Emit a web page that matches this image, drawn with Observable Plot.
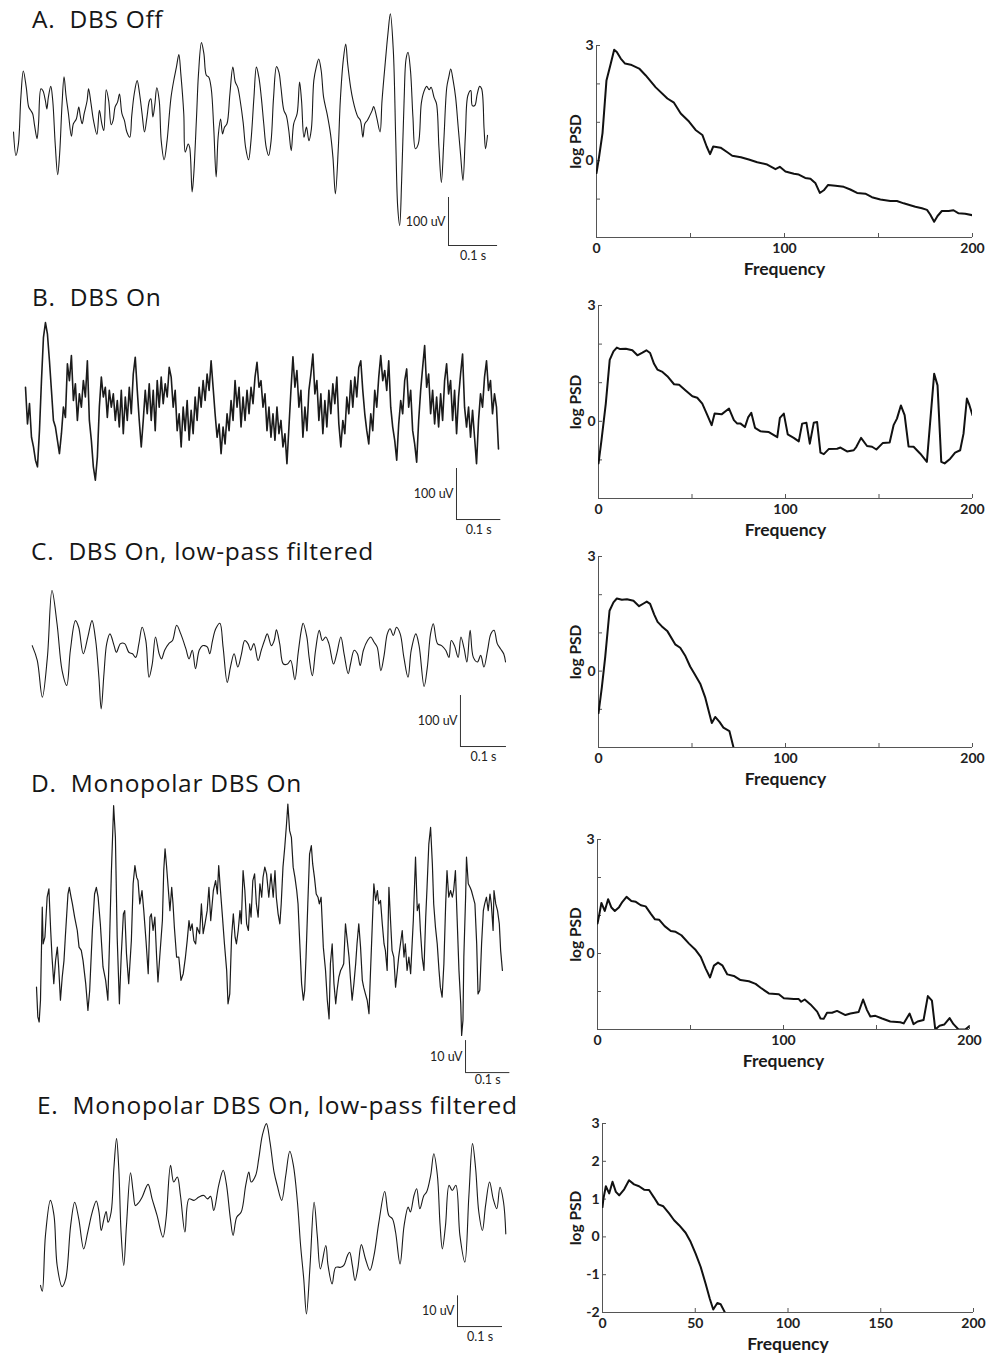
<!DOCTYPE html>
<html><head><meta charset="utf-8">
<script src="https://cdn.jsdelivr.net/npm/d3@7"></script>
<script src="https://cdn.jsdelivr.net/npm/@observablehq/plot@0.6"></script>
<style>
body{margin:0;background:#fff;}
#page{position:relative;width:990px;height:1355px;overflow:hidden;background:#fff;font-family:Lato,"Open Sans",sans-serif;}
.title{position:absolute;font-family:"Open Sans",Lato,sans-serif;font-size:24.5px;letter-spacing:0.7px;line-height:24px;color:#161616;white-space:pre;}
.panel{position:absolute;}
</style></head><body><div id="page"></div>
<script>
// ---------------- DATA ----------------
const titles = ["A.  DBS Off","B.  DBS On","C.  DBS On, low-pass filtered","D.  Monopolar DBS On","E.  Monopolar DBS On, low-pass filtered"];

// traces: [time ms, amplitude uV]
const traceA = [[0,-3],[5,-52],[10,-28],[15,69],[20,124],[26,90],[31,49],[35,42],[39,35],[43,10],[48,-17],[51,14],[56,87],[60,83],[65,62],[68,45],[71,69],[76,92],[80,62],[85,-28],[90,-92],[94,-49],[99,56],[103,112],[107,73],[112,35],[118,-12],[122,14],[128,24],[133,49],[136,31],[140,14],[144,35],[150,62],[153,87],[158,56],[163,21],[170,-8],[175,42],[180,14],[184,0],[189,85],[194,62],[199,12],[203,21],[207,49],[212,59],[216,76],[221,35],[226,21],[231,-3],[237,-14],[241,31],[246,76],[252,104],[257,76],[262,35],[267,-3],[272,28],[277,62],[280,66],[284,28],[288,54],[292,89],[297,62],[301,-21],[307,-61],[313,-21],[318,38],[321,69],[326,101],[332,132],[337,158],[341,118],[347,35],[350,-45],[356,-28],[359,-35],[364,-128],[367,-97],[373,28],[377,118],[383,183],[388,160],[393,115],[398,111],[403,87],[408,7],[413,-97],[417,-14],[422,24],[426,-7],[430,7],[435,14],[441,76],[447,132],[452,101],[457,90],[462,62],[468,17],[473,-35],[479,-61],[484,-21],[490,69],[495,132],[500,111],[505,69],[510,14],[515,-35],[520,-52],[525,-21],[530,69],[536,133],[541,121],[545,90],[551,42],[556,31],[561,0],[566,-42],[571,14],[578,35],[583,101],[587,62],[592,-14],[597,7],[602,-21],[607,3],[612,104],[617,132],[622,149],[627,125],[632,69],[639,35],[646,-7],[651,-56],[656,-132],[662,-35],[666,62],[672,146],[677,180],[681,139],[687,90],[692,62],[697,42],[702,28],[707,21],[712,-14],[716,14],[721,21],[726,31],[731,42],[734,50],[740,28],[747,-3],[751,62],[758,146],[763,201],[768,243],[774,167],[779,-21],[783,-160],[787,-198],[791,-104],[796,62],[800,149],[804,163],[809,125],[814,28],[819,-38],[825,-28],[831,56],[836,80],[842,92],[847,85],[851,90],[857,69],[862,56],[867,-35],[872,-108],[877,-21],[883,90],[887,111],[891,128],[896,104],[901,69],[906,10],[911,-49],[916,-104],[921,-7],[926,73],[932,83],[935,52],[940,52],[945,76],[950,92],[954,87],[959,3],[962,-38],[966,-10]];

// trace B: uniformly sampled, uV
const traceB_dt = 4.5; // ms between samples
const traceB = [52,-20,20,-46,-65,-91,-104,-33,65,150,179,156,104,46,-13,-26,-52,-78,-39,13,-7,98,65,114,26,59,-13,39,13,65,33,104,-13,-52,-104,-130,-85,13,72,33,52,-7,46,13,39,-13,26,-26,46,-39,33,-13,52,0,78,111,46,-13,-65,-13,46,0,59,-13,46,-33,65,13,72,20,59,33,91,72,13,46,-33,0,-65,13,-33,26,-52,7,-39,33,-13,52,13,65,26,78,46,104,52,0,-46,-20,-78,-26,-59,0,-33,26,-13,65,13,52,-26,33,-13,46,0,52,20,72,101,52,65,13,39,-33,13,-46,0,-52,13,-39,-13,-65,-39,-98,-26,46,112,52,85,13,46,-46,13,-33,46,78,117,39,65,-13,39,-39,26,-26,46,0,59,20,72,-20,-65,-13,-39,33,0,65,13,72,33,91,104,46,0,-33,-59,0,-33,46,13,72,114,65,85,46,104,13,-26,-52,-91,-20,26,0,65,88,13,46,-33,-59,-95,-13,46,91,134,52,78,0,46,-20,33,-26,39,-13,65,98,39,65,-13,46,-39,33,78,117,13,-26,13,-46,7,-46,-98,-13,39,13,72,104,46,65,0,39,13,-69];

const traceC = [[0,16],[11,-13],[22,-85],[33,-7],[43,124],[54,59],[65,-33],[75,-62],[83,7],[94,65],[101,52],[111,0],[121,33],[130,65],[138,26],[145,-46],[150,-108],[156,-39],[162,20],[169,39],[178,16],[183,3],[192,20],[201,20],[210,3],[218,0],[225,-7],[232,20],[239,52],[247,26],[254,-46],[261,-20],[268,33],[276,0],[281,-10],[288,7],[297,20],[305,26],[314,56],[323,39],[334,10],[341,-10],[348,7],[355,-29],[363,7],[370,16],[375,16],[381,13],[386,0],[392,26],[399,49],[408,60],[415,13],[424,-56],[431,-26],[439,0],[447,-26],[455,0],[462,26],[469,20],[475,7],[482,20],[491,-13],[498,7],[505,26],[511,39],[520,16],[526,26],[531,47],[538,20],[546,-20],[555,-20],[562,-13],[571,-51],[578,0],[585,46],[589,60],[597,33],[602,-7],[609,-43],[616,7],[624,46],[631,26],[638,33],[645,20],[655,-20],[662,0],[671,33],[678,0],[687,-39],[692,-20],[700,7],[707,0],[713,-23],[720,7],[729,26],[736,33],[743,23],[750,13],[758,-33],[765,-3],[772,39],[778,49],[785,36],[792,52],[800,39],[808,-7],[817,-46],[824,7],[834,39],[841,16],[852,-64],[859,-26],[866,39],[872,59],[881,20],[890,16],[899,7],[906,-7],[911,26],[918,16],[926,-7],[932,33],[939,10],[945,-16],[952,46],[959,-7],[968,-16],[975,-3],[982,-26],[990,7],[997,39],[1004,46],[1011,20],[1018,10],[1025,0],[1029,-16]];

const traceD = [[0,-17.7],[3,-27],[6,-28.6],[9,-21.8],[13,7.3],[15,-4.2],[19,-2.1],[24,10.4],[28,13],[32,0],[35,-8.3],[39,-16.6],[43,-9.4],[47,-5.2],[50,-11.4],[54,-21.8],[58,-14.6],[62,-9.4],[65,-2.1],[71,11.4],[74,13.5],[78,10.4],[81,8.3],[86,4.2],[92,0],[96,-5.2],[101,-6.2],[105,-9.4],[111,-16.6],[116,-25],[120,-18.7],[126,0],[131,11.4],[135,13.5],[139,10.4],[144,2.1],[150,-11.4],[156,-15.6],[161,-21.8],[165,-2.1],[169,18.7],[174,39],[178,29.1],[182,-2.1],[187,-22.9],[191,-8.3],[196,5.2],[199,6.2],[203,-7.3],[208,-16.6],[214,-3.1],[218,14.6],[222,20.3],[226,16.6],[229,15.6],[233,8.3],[238,12.5],[242,6.2],[247,-3.1],[252,-13.5],[256,4.2],[259,5.2],[263,0],[267,4.2],[271,-8.3],[274,-16.1],[278,-8.3],[284,3.1],[287,18.7],[290,25.5],[293,20.8],[297,13.5],[301,6.2],[305,13.5],[308,8.3],[311,1],[316,-8.3],[321,-8.3],[326,-15.6],[331,-13.5],[336,-8.3],[340,-3.1],[344,3.1],[347,0],[351,2.1],[355,-3.1],[359,-4.2],[362,1],[368,-1],[372,8.3],[376,-1],[380,2.1],[385,6.2],[389,13.5],[393,3.1],[399,12.5],[404,15.6],[408,11.4],[411,20.3],[415,12.5],[419,5.2],[424,-4.2],[429,-12.5],[432,-22.9],[436,-19.8],[440,-2.1],[444,5.2],[448,-2.1],[451,-4.2],[455,0],[459,6.2],[462,2.1],[466,18.7],[470,12.5],[474,2.1],[478,0],[481,8.3],[484,4.2],[488,15.6],[492,17.7],[496,8.3],[500,4.2],[504,14.6],[508,10.4],[511,16.6],[515,19.8],[519,17.7],[524,10.4],[529,17.7],[534,10.4],[538,18.7],[541,10.4],[545,5.2],[549,2.1],[552,8.3],[556,19.8],[560,26],[564,33.3],[567,39.5],[571,31.2],[575,29.1],[579,19.8],[583,16.6],[587,12.5],[590,8.3],[594,-4.2],[598,-16.6],[602,-21.8],[605,-18.7],[608,-8.3],[612,8.3],[616,23.9],[620,26.5],[623,20.8],[627,16.6],[631,11.4],[635,10.4],[638,8.3],[642,10.4],[647,-5.2],[652,-12.5],[656,-21.8],[660,-27.6],[663,-10.4],[667,-4.2],[671,-16.6],[675,-22.9],[678,-18.7],[682,-14.6],[686,-12.5],[690,-11.4],[693,-10.4],[697,2.1],[701,-3.1],[705,-8.3],[708,-14.6],[712,-21.8],[716,-16.6],[720,-10.4],[723,-4.2],[727,2.1],[731,-5.2],[735,-15.6],[738,-17.7],[742,-19.8],[746,-21.8],[750,-26],[753,-14.6],[757,0],[761,14.6],[765,9.4],[769,12.5],[772,8.3],[776,9.4],[780,2.1],[784,-4.2],[787,-6.2],[791,-12.5],[795,13.5],[799,2.1],[802,-6.2],[806,-8.3],[810,-17.7],[814,-12.5],[817,-8.3],[821,-4.2],[825,0],[829,-8.3],[832,-4.2],[836,-12.5],[840,-8.3],[844,-13.5],[850,3.1],[855,22.9],[859,6.2],[863,8.3],[866,0],[870,-8.3],[874,-12.5],[878,4.2],[881,13.5],[885,27],[889,32.2],[893,20.8],[896,8.3],[900,1],[904,-4.2],[908,-12.5],[911,-17.7],[915,-20.8],[919,-10.4],[923,8.3],[926,18.7],[930,10.4],[934,12.5],[938,10.4],[941,12.5],[945,18.7],[949,3.1],[953,-12.5],[957,-22.9],[959,-32.8],[962,-28.1],[964,-8.3],[968,10.4],[970,22.9],[974,14.6],[978,13.5],[981,12.5],[985,10.4],[989,8.3],[993,-4.2],[996,-19.8],[1000,-18.7],[1004,-4.2],[1008,6.2],[1011,8.3],[1015,10.4],[1019,6.2],[1023,11.4],[1026,8.3],[1030,0],[1032,12.5],[1036,8.3],[1040,6.2],[1044,2.1],[1047,-6.2],[1051,-12.5]];

const traceE = [[0,-21.7],[4,-23.6],[11,-5.4],[22,6],[30,1.1],[37,-15.2],[48,-22.1],[56,-19.6],[67,-2.2],[76,5.4],[85,0],[96,-9.8],[105,-4.3],[115,2.2],[124,5.8],[130,2.2],[135,-3.8],[141,0],[146,2.4],[150,-1.1],[157,2.2],[163,16.3],[169,26.1],[174,16.3],[179,-4.3],[185,-15.2],[191,-2.2],[200,15],[206,8.7],[211,4.3],[219,5.4],[226,7.1],[239,11.2],[248,6.5],[259,1.1],[272,-6],[279,0],[289,17.4],[296,12],[304,13.6],[311,7.6],[321,-4.3],[330,6.5],[341,6],[352,7.1],[363,7.6],[371,6.5],[378,7.3],[385,2.7],[396,10.9],[406,15.8],[413,11.4],[422,0],[428,-5.4],[436,0.5],[446,2.2],[456,10.9],[463,15.2],[468,12],[478,14.1],[485,19.6],[493,27.2],[502,31],[510,25],[519,15.2],[526,10.9],[536,6],[545,14.1],[554,22],[562,17.4],[571,5.4],[578,-8.7],[585,-19.6],[591,-31],[599,-15.2],[608,5.4],[615,-5.4],[622,-16.3],[634,-8.7],[639,-15.2],[648,-21.2],[656,-15.8],[667,-15.8],[674,-15.2],[682,-12],[687,-10.9],[693,-15.2],[699,-20.1],[705,-16.3],[713,-8.4],[722,-13],[732,-16.8],[741,-12],[752,-1.1],[765,8.9],[774,1.1],[782,0],[789,-4.3],[799,-14.7],[808,-2.2],[817,3.8],[822,2.2],[830,7.6],[836,9.8],[843,3.3],[852,7.6],[858,8.7],[867,14.1],[874,21.2],[882,14.1],[888,-2.2],[893,-9.8],[900,-2.2],[908,10.9],[915,9.2],[923,10.9],[932,-5.4],[943,-14.1],[952,7.6],[960,24.5],[967,16.3],[974,2.2],[982,-3.8],[989,4.3],[998,12],[1006,6.5],[1014,3.3],[1021,10.3],[1029,5.4],[1034,-4.9]];

// scale bars
const scaleBars = [
  {amp: 100, ampLabel: "100 uV", dur: 100, durLabel: "0.1 s"},
  {amp: 100, ampLabel: "100 uV", dur: 100, durLabel: "0.1 s"},
  {amp: 100, ampLabel: "100 uV", dur: 100, durLabel: "0.1 s"},
  {amp: 10, ampLabel: "10 uV", dur: 100, durLabel: "0.1 s"},
  {amp: 10, ampLabel: "10 uV", dur: 100, durLabel: "0.1 s"}
];

// PSD: [frequency Hz, log PSD]
const psdA = [[0,-0.32],[1.4,0.11],[3.2,0.72],[5.3,2.09],[7.6,2.53],[9.4,2.89],[10.8,2.83],[12.9,2.66],[15.2,2.53],[18.2,2.5],[22.7,2.4],[26.2,2.22],[31.5,1.91],[37.7,1.62],[41.2,1.51],[44.8,1.23],[49.2,1.02],[52.7,0.8],[56.3,0.67],[58.6,0.37],[60.4,0.17],[62.1,0.37],[66,0.34],[69.6,0.22],[72.2,0.13],[76.8,0.09],[81,0.03],[85.5,-0.04],[90.8,-0.1],[95.2,-0.22],[97.5,-0.16],[100.5,-0.28],[105,-0.34],[107.6,-0.36],[111,-0.45],[113.8,-0.47],[116.5,-0.59],[118.8,-0.84],[120.9,-0.77],[123.2,-0.63],[127.1,-0.65],[131.5,-0.68],[135,-0.75],[138.6,-0.84],[143,-0.86],[146.5,-0.95],[151,-1.01],[156.3,-1.05],[159.8,-1.05],[163.4,-1.11],[166.9,-1.16],[169.6,-1.2],[173.1,-1.24],[175.8,-1.28],[177.5,-1.4],[179.6,-1.59],[181.4,-1.44],[183.7,-1.31],[187.3,-1.31],[189.9,-1.29],[192.6,-1.37],[196.1,-1.38],[200,-1.42]];
const psdB = [[0,-1.09],[1.6,-0.49],[3.9,0.46],[6,1.59],[8,1.81],[9.8,1.91],[11.6,1.87],[14.6,1.88],[18.1,1.84],[20.8,1.71],[23.5,1.78],[25.6,1.84],[27.6,1.77],[29.7,1.49],[31.5,1.34],[34.2,1.28],[36.8,1.17],[40.4,0.96],[43.1,0.95],[46.6,0.8],[50.2,0.65],[52.8,0.61],[55.5,0.46],[58.2,0.16],[60.5,-0.1],[62.1,0.2],[65.8,0.18],[69.8,0.33],[72.4,0.03],[74.2,-0.06],[76,-0.06],[78.3,-0.15],[80.1,0.11],[81.7,0.22],[83.7,-0.17],[86.7,-0.26],[91.1,-0.28],[95.6,-0.41],[97,0.09],[99.1,0.2],[101.2,-0.34],[104.4,-0.43],[107.1,-0.52],[108.9,-0.06],[111.2,-0.04],[113,-0.58],[115.1,-0.04],[116.9,-0.02],[118.7,-0.81],[120.5,-0.85],[123.1,-0.72],[127.6,-0.71],[129.4,-0.68],[132.9,-0.78],[136.5,-0.75],[137.9,-0.66],[140.4,-0.43],[143.6,-0.64],[146.3,-0.66],[148.6,-0.73],[152.1,-0.56],[155.7,-0.55],[157.8,-0.1],[159.6,0.07],[161.7,0.41],[163.7,0.16],[165.8,-0.65],[168.5,-0.66],[172.1,-0.84],[175.6,-1.05],[179.5,1.23],[181.3,0.93],[183.3,-1.05],[185.1,-1.09],[188.1,-0.97],[190.7,-0.81],[193.4,-0.75],[195.2,-0.32],[197,0.59],[198.4,0.41],[200,0.16]];
const psdC = [[0,-1.1],[1.8,-0.42],[3.6,0.37],[5.9,1.58],[8,1.8],[9.8,1.9],[12.5,1.87],[15.2,1.88],[18.7,1.84],[21.7,1.7],[24.1,1.77],[25.8,1.82],[27.6,1.76],[29.8,1.48],[31.6,1.29],[33.9,1.17],[36.9,1.04],[41,0.7],[43.7,0.61],[46.3,0.41],[49,0.12],[51.3,-0.07],[54.4,-0.33],[57,-0.68],[59.2,-1.1],[60.6,-1.36],[62.4,-1.2],[64.7,-1.33],[66.8,-1.48],[70,-1.57],[72.2,-2]];
const psdD = [[0,0.79],[0.9,1.01],[2.1,1.33],[3.9,1.12],[5.7,1.43],[7.5,1.21],[9.3,1.12],[11.6,1.22],[13.4,1.36],[15.6,1.49],[18.2,1.38],[20.6,1.36],[23.3,1.27],[25.9,1.24],[28.6,1.05],[30.9,0.9],[33.1,0.89],[36.1,0.72],[39.4,0.59],[42,0.57],[45.1,0.48],[49.2,0.26],[52.8,0.09],[55.5,-0.09],[58.1,-0.39],[60.5,-0.63],[62.6,-0.32],[64.8,-0.24],[67.1,-0.31],[69.8,-0.55],[73.3,-0.59],[76.9,-0.7],[81.4,-0.73],[85,-0.8],[87.7,-0.9],[92.1,-1.05],[97.5,-1.07],[100.2,-1.18],[105.5,-1.2],[108.2,-1.2],[109.5,-1.27],[111.4,-1.21],[114.5,-1.34],[118.1,-1.53],[119.9,-1.71],[121.6,-1.72],[123.4,-1.56],[126.1,-1.56],[128.8,-1.51],[133.3,-1.62],[136,-1.58],[140.4,-1.54],[142.8,-1.21],[144.9,-1.49],[146.7,-1.66],[149.4,-1.64],[153,-1.71],[157.4,-1.79],[162.8,-1.81],[164.6,-1.84],[167.8,-1.58],[169.9,-1.86],[172.1,-1.79],[175.3,-1.75],[177.6,-1.12],[179.8,-1.24],[181.6,-2],[183.9,-1.9],[186.4,-1.87],[189.3,-1.7],[191.4,-1.86],[194.1,-2],[197.7,-2],[200,-1.91]];
const psdE = [[0,0.79],[0.5,1.01],[1.8,1.34],[3.6,1.15],[5.4,1.46],[7.2,1.19],[9,1.1],[11.7,1.26],[14.3,1.5],[17,1.39],[19.7,1.34],[22.4,1.25],[25.1,1.24],[27.8,1.04],[30.1,0.86],[32.8,0.81],[35.9,0.62],[38.6,0.44],[41.3,0.31],[44.8,0.11],[47.5,-0.13],[50.2,-0.44],[52.9,-0.79],[55.6,-1.24],[57.8,-1.63],[59.7,-1.92],[61.9,-1.75],[63.7,-1.78],[66,-2]];

// axis ticks
const psdXTicks = [0, 50, 100, 150, 200];
const psdYTicks = [-2, -1, 0, 1, 2, 3];
const psdXLabels = [0, 100, 200];
const psdYLabels = [0, 3];
const psdXLabelsE = [0, 50, 100, 150, 200];
const psdYLabelsE = [-2, -1, 0, 1, 2, 3];

// ---------------- LAYOUT ----------------
const titleLayout = [
  {x: 32, baseline: 28}, {x: 32, baseline: 306}, {x: 31, baseline: 560}, {x: 31, baseline: 792}, {x: 37, baseline: 1114}
];
const traceLayout = [
  {x0: 13, y0: 130, kx: 0.4907, ky: 0.48, frame: [6, 4, 510, 265], barT: 886.5, barV: -239.6, curve: "catmull-rom", sw: 1.1, durDy: 10},
  {x0: 25, y0: 413.3, kx: 0.4435, ky: 0.51, frame: [18, 300, 512, 540], barT: 971.8, barV: -207.3, curve: "linear", sw: 1.6, durDy: 10},
  {x0: 31.7, y0: 653.3, kx: 0.46, ky: 0.51, frame: [25, 575, 515, 765], barT: 931, barV: -181.8, curve: "catmull-rom", sw: 1.1, durDy: 10},
  {x0: 36, y0: 930, kx: 0.4433, ky: 3.2, frame: [28, 795, 520, 1090], barT: 967.8, barV: -44.4, curve: "linear", sw: 1.2, durDy: 7},
  {x0: 40, y0: 1218.3, kx: 0.45, ky: 3.07, frame: [28, 1115, 520, 1345], barT: 926.7, barV: -35.1, curve: "catmull-rom", sw: 1.1, durDy: 10}
];
const psdLayout = [
  {x0: 596, x200: 972, yTop: 45, yBot: 237},
  {x0: 598, x200: 972, yTop: 305, yBot: 498},
  {x0: 598, x200: 972, yTop: 556, yBot: 747},
  {x0: 597, x200: 969, yTop: 839, yBot: 1029},
  {x0: 602, x200: 973, yTop: 1123, yBot: 1312}
];
const psdLabelX = 576; // horizontal centre of the rotated "log PSD" label

// ---------------- DRAW ----------------
const page = document.getElementById("page");
const FONT = "Lato, 'Open Sans', sans-serif";

function place(node, left, top) {
  const wrap = document.createElement("div");
  wrap.className = "panel";
  wrap.style.left = left + "px";
  wrap.style.top = top + "px";
  wrap.appendChild(node);
  page.appendChild(wrap);
}

titles.forEach((t, i) => {
  const d = document.createElement("div");
  d.className = "title";
  d.textContent = t;
  d.style.left = titleLayout[i].x + "px";
  d.style.top = (titleLayout[i].baseline - 21.5) + "px";
  page.appendChild(d);
});

function tracePlot(series, L, bar) {
  const [fx1, fy1, fx2, fy2] = L.frame;
  const xd = [(fx1 - L.x0) / L.kx, (fx2 - L.x0) / L.kx];
  const yd = [(L.y0 - fy2) / L.ky, (L.y0 - fy1) / L.ky];
  const svg = Plot.plot({
    width: fx2 - fx1, height: fy2 - fy1, margin: 0,
    x: {domain: xd, axis: null}, y: {domain: yd, axis: null},
    style: {background: "transparent", fontFamily: FONT, overflow: "visible"},
    marks: [
      Plot.line(series, {x: d => d[0], y: d => d[1], stroke: "#1b1b1b", strokeWidth: L.sw, curve: L.curve}),
      Plot.ruleX([bar], {x: () => L.barT, y1: () => L.barV, y2: () => L.barV + bar.amp, stroke: "#333", strokeWidth: 1}),
      Plot.ruleY([bar], {y: () => L.barV, x1: () => L.barT, x2: () => L.barT + bar.dur, stroke: "#333", strokeWidth: 1}),
      Plot.text([bar], {x: () => L.barT, y: () => L.barV + bar.amp / 2, text: d => d.ampLabel, textAnchor: "end", dx: -3, fontSize: 12.5, fill: "#222"}),
      Plot.text([bar], {x: () => L.barT + bar.dur / 2, y: () => L.barV, text: d => d.durLabel, dy: L.durDy, fontSize: 12.5, fill: "#222"})
    ]
  });
  place(svg, fx1, fy1);
}

function psdPlot(series, L, xLabels, yLabels) {
  const left = 540, right = 990, mT = 12, mB = 48;
  const H = L.yBot - L.yTop;
  const ky = H / 5, kx = (L.x200 - L.x0) / 200, tick = 4;
  const svg = Plot.plot({
    width: right - left, height: H + mT + mB,
    marginLeft: L.x0 - left, marginRight: right - L.x200, marginTop: mT, marginBottom: mB,
    x: {domain: [0, 200], axis: null}, y: {domain: [-2, 3], axis: null},
    style: {background: "transparent", fontFamily: FONT, overflow: "visible"},
    marks: [
      Plot.ruleY([-2], {stroke: "#555", strokeWidth: 1}),
      Plot.ruleX([0], {stroke: "#555", strokeWidth: 1}),
      Plot.ruleX(psdXTicks, {x: d => d, y1: () => -2, y2: () => -2 + tick / ky, stroke: "#555", strokeWidth: 1}),
      Plot.ruleY(psdYTicks, {y: d => d, x1: () => 0, x2: () => tick / kx, stroke: "#555", strokeWidth: 1}),
      Plot.line(series, {x: d => d[0], y: d => d[1], stroke: "#111", strokeWidth: 2, strokeLinejoin: "round", clip: true}),
      Plot.text(xLabels, {x: d => d, y: () => -2, text: d => String(d), dy: 11, fontSize: 14, fontWeight: "bold", fill: "#222"}),
      Plot.text(yLabels, {x: () => 0, y: d => d, text: d => String(d), dx: -3, textAnchor: "end", fontSize: 14, fontWeight: "bold", fill: "#222"}),
      Plot.text(["Frequency"], {frameAnchor: "bottom", lineAnchor: "middle", textAnchor: "middle", dy: 32, fontSize: 17.5, fontWeight: "bold", fill: "#1a1a1a"}),
      Plot.text(["log PSD"], {frameAnchor: "left", lineAnchor: "middle", textAnchor: "middle", rotate: -90, dx: psdLabelX - L.x0, fontSize: 15.5, fontWeight: "bold", fill: "#1a1a1a"})
    ]
  });
  place(svg, left, L.yTop - mT);
}

const traces = [traceA, traceB.map((v, i) => [i * traceB_dt, v]), traceC, traceD, traceE];
traces.forEach((s, i) => tracePlot(s, traceLayout[i], scaleBars[i]));

const psds = [psdA, psdB, psdC, psdD, psdE];
psds.forEach((s, i) => psdPlot(s, psdLayout[i], i === 4 ? psdXLabelsE : psdXLabels, i === 4 ? psdYLabelsE : psdYLabels));
</script>
</body></html>
